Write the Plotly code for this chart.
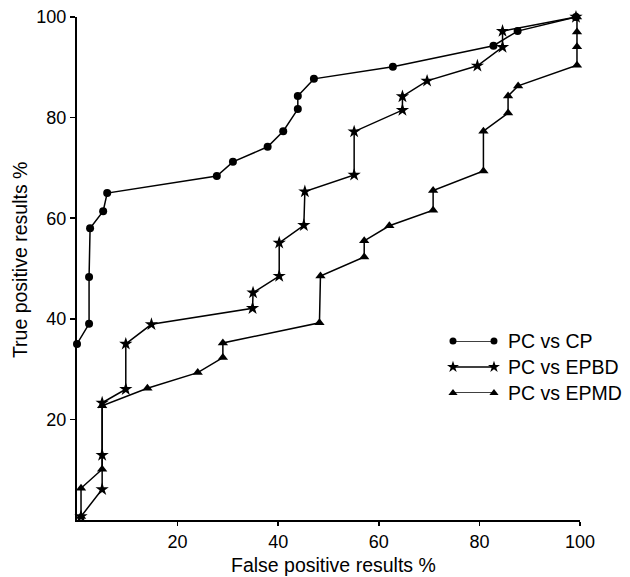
import plotly.graph_objects as go

# PC vs CP (circles)
cp_x = [0, 2.4, 2.4, 2.6, 5.2, 6.0, 27.8, 31.0, 37.9, 41.0, 43.9, 43.9, 47.1, 62.8, 82.8, 87.6, 99.2]
cp_y = [35, 39, 48.3, 58, 61.4, 65, 68.4, 71.2, 74.2, 77.3, 81.7, 84.3, 87.7, 90.1, 94.3, 97.2, 100]

# PC vs EPBD (stars)
bd_x = [0.8, 5.0, 5.0, 5.0, 9.7, 9.7, 14.8, 34.9, 35.0, 40.2, 40.2, 45.1, 45.3, 55.1, 55.1, 64.7, 64.7, 69.6, 79.6, 84.6, 84.6, 99.2]
bd_y = [0.7, 6.1, 12.9, 23.3, 26.0, 35.0, 38.9, 42.1, 45.2, 48.5, 55.1, 58.6, 65.3, 68.6, 77.2, 81.5, 84.2, 87.3, 90.3, 94.0, 97.2, 100]

# PC vs EPMD (triangles)
md_x = [0.8, 0.8, 5.0, 5.0, 14.0, 24.0, 29.0, 29.0, 48.2, 48.4, 57.1, 57.1, 62.1, 70.8, 70.8, 80.8, 80.8, 85.7, 85.7, 87.7, 99.4, 99.4, 99.4, 99.4]
md_y = [0.7, 6.3, 10.1, 22.7, 26.2, 29.3, 32.3, 35.2, 39.2, 48.5, 52.3, 55.5, 58.5, 61.6, 65.5, 69.4, 77.3, 80.9, 84.3, 86.3, 90.4, 94.1, 97.0, 100]

series_names = ["PC vs CP", "PC vs EPBD", "PC vs EPMD"]
x_ticks = [20, 40, 60, 80, 100]
y_ticks = [20, 40, 60, 80, 100]
x_title = "False positive results %"
y_title = "True positive results %"

FONT = "Liberation Sans, Arial, Helvetica, sans-serif"
symbols = ["circle", "star", "triangle-up"]
sizes = [8, 10, 9]

fig = go.Figure()
for xs, ys, sym, sz in zip([cp_x, bd_x, md_x], [cp_y, bd_y, md_y], symbols, sizes):
    fig.add_trace(go.Scatter(
        x=xs, y=ys, mode="lines+markers",
        line=dict(color="black", width=1.5),
        marker=dict(symbol=sym, size=sz, color="black"),
        cliponaxis=False, showlegend=False, hoverinfo="skip"))

# custom legend samples (markers at both ends of the line)
for i, (name, sym, sz) in enumerate(zip(series_names, symbols, sizes)):
    row = 2 - i
    fig.add_trace(go.Scatter(
        x=[0, 1], y=[row, row], mode="lines+markers",
        xaxis="x2", yaxis="y2",
        line=dict(color="black", width=1.5),
        marker=dict(symbol=sym, size=sz - 1, color="black"),
        cliponaxis=False, showlegend=False, hoverinfo="skip"))
    fig.add_annotation(x=1, y=row, xref="x2", yref="y2", text=name,
                       showarrow=False, xanchor="left", yanchor="middle",
                       xshift=12, font=dict(family=FONT, size=19.5, color="black"))

# axis titles
fig.add_annotation(x=-0.113, y=0.517, xref="paper", yref="paper", text=y_title,
                   textangle=-90, showarrow=False, xanchor="center", yanchor="middle",
                   font=dict(family=FONT, size=19.5, color="black"))
fig.add_annotation(x=0.509, y=-0.0895, xref="paper", yref="paper", text=x_title,
                   showarrow=False, xanchor="center", yanchor="middle",
                   font=dict(family=FONT, size=19.5, color="black"))

fig.update_layout(
    width=630, height=577,
    margin=dict(l=77, r=50, t=17, b=57),
    paper_bgcolor="white", plot_bgcolor="white",
    font=dict(family=FONT, size=18, color="black"),
    xaxis=dict(range=[0, 100], tickvals=x_ticks, ticktext=[str(v) for v in x_ticks],
               showgrid=False, zeroline=False, showline=True, linecolor="black", linewidth=2,
               ticks="outside", ticklen=4, tickwidth=1.5, tickcolor="black",
               automargin=False),
    yaxis=dict(range=[0, 100], tickvals=y_ticks, ticktext=[str(v) for v in y_ticks],
               showgrid=False, zeroline=False, showline=True, linecolor="black", linewidth=2,
               ticks="outside", ticklen=5, tickwidth=1.5, tickcolor="black",
               automargin=False),
    xaxis2=dict(domain=[0.7475, 0.829], range=[0, 1], visible=False, anchor="y2"),
    yaxis2=dict(domain=[0.2525, 0.356], range=[0, 2], visible=False, anchor="x2"),
)

fig.write_html("out.html", config={"displayModeBar": False, "staticPlot": True},
               post_script="document.body.style.margin='0';document.body.style.overflow='hidden';")
